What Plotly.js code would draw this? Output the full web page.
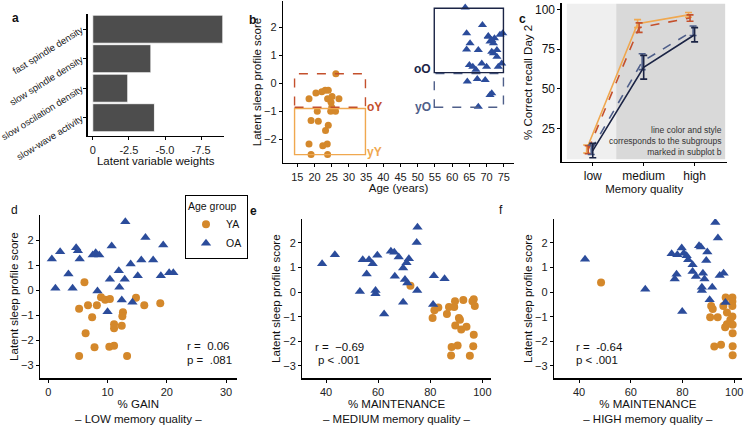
<!DOCTYPE html>
<html><head><meta charset="utf-8">
<script src="https://cdn.plot.ly/plotly-3.0.1.min.js"></script>
<style>html,body{margin:0;padding:0;background:#fff}#chart{width:745px;height:427px}</style>
</head><body><div id="chart"></div>
<script>
// ---------- data ----------
const weightLabels = ["fast spindle density", "slow spindle density", "slow oscilation density", "slow-wave activity"];
const weightValues = [-9.0, -4.02, -2.42, -4.27];

// panel b: age vs latent score
const ageYA = [26.2, 18.4, 20.4, 22.1, 23.1, 24.0, 25.1, 23.8, 27.1, 24.8, 25.0, 20.8, 24.7, 26.1, 19.0, 21.1, 24.0, 23.2, 18.4, 22.4, 23.7, 19.0, 23.8];
const scoreYA_b = [0.34, -0.55, -0.35, -0.3, -0.25, -0.25, -0.47, -0.55, -0.55, -0.68, -0.86, -1.0, -1.0, -1.0, -1.33, -1.36, -1.5, -1.69, -2.17, -2.23, -2.17, -2.55, -2.55];
const ageOA = [63.8, 68.8, 64.2, 65.2, 64.2, 67.6, 70.5, 71.0, 72.0, 71.5, 72.3, 74.7, 73.9, 73.0, 72.0, 73.0, 74.4, 65.0, 66.0, 68.6, 66.9, 70.0, 73.4, 64.4, 67.3, 69.6, 71.5, 71.0, 67.6, 70.5, 71.5];
const scoreOA_b = [2.71, 2.08, 1.79, 1.43, 1.21, 1.19, 1.69, 1.49, 1.43, 1.13, 1.61, 1.79, 1.73, 1.19, 1.07, 0.95, 0.71, 0.65, 0.59, 0.71, 0.48, 0.59, 0.59, 0.06, 0.15, 0.12, -0.36, -0.42, -0.84, 1.66, 1.55];

// panel c: recall by memory quality and subgroup
const memCats = ["low", "medium", "high"];
const recallYY = [12, 91, 96.5];   const errYY = [2.5, 2.5, 1.5];
const recallOY = [11.5, 88.5, 94.5]; const errOY = [2.5, 3, 2];
const recallYO = [11.5, 67, 86.5]; const errYO = [3, 5, 3];
const recallOO = [11, 63.5, 84];   const errOO = [4.5, 7.5, 4.5];

// panel d: % gain (low memory quality)
const gainYA = [6.1, 8.9, 9.6, 10.4, 14.8, 5.2, 6.7, 8.2, 16.2, 18.9, 7.4, 12.6, 12.5, 11.1, 11.1, 12.4, 6.3, 7.8, 10.3, 11.1, 5.2, 13.3];
const scoreYA_d = [0.31, -0.29, -0.39, -0.36, -0.31, -0.75, -0.61, -0.61, -0.61, -0.53, -1.09, -0.89, -1.05, -1.37, -1.53, -1.43, -1.73, -2.29, -2.27, -2.23, -2.64, -2.64];
const gainOA = [13.0, 16.4, 19.4, 29.3, 0.6, 2.0, 4.7, 5.0, 5.3, 7.5, 8.0, 8.6, 10.7, 13.9, 15.7, 17.7, 3.4, 11.9, 15.1, 19.0, 20.4, 21.1, 10.4, 12.9, 12.0, 1.2, 4.1, 8.3, 12.4, 14.2, 10.0];
const scoreOA_d = [2.73, 2.1, 1.8, 1.43, 1.24, 1.53, 1.69, 1.57, 1.24, 1.4, 1.49, 1.4, 1.76, 1.04, 1.2, 1.2, 0.64, 0.77, 0.57, 0.57, 0.69, 0.69, 0.43, 0.43, 0.11, 0.07, 0.07, -0.04, -0.4, -0.49, -0.87];

// panel e: % maintenance (medium memory quality)
const maintMedYA = [72.4, 81.6, 83.1, 80.9, 86.4, 87.2, 89.2, 89.5, 92.7, 96.2, 96.7, 97.1, 91.0, 91.4, 89.6, 91.9, 93.9, 96.7, 88.2, 90.5, 96.5, 88.0, 95.2];
const scoreYA_e = [0.26, -0.74, -0.62, -1.05, -0.89, -0.6, -0.6, -0.37, -0.32, -0.37, -0.29, -0.56, -1.05, -1.12, -1.36, -1.52, -1.41, -1.73, -2.23, -2.17, -2.2, -2.57, -2.58];
const maintMedOA = [38.5, 43.4, 54.1, 56.5, 57.9, 59.7, 55.6, 53.0, 59.0, 59.0, 62.3, 64.9, 66.2, 67.9, 66.4, 69.6, 70.9, 71.8, 70.3, 71.2, 74.8, 75.0, 69.6, 81.4, 85.5, 81.1, 75.1];
const scoreOA_e = [1.15, 1.52, 1.32, 1.32, 1.15, 1.5, 0.74, 0.03, 0.07, -0.07, -0.89, 1.66, 1.62, 1.43, 0.64, 0.98, 1.19, 1.36, 0.51, 0.37, 2.02, 0.07, -0.41, 0.67, 0.54, -0.5, 2.63];

// panel f: % maintenance (high memory quality)
const maintHighYA = [48.5, 91.1, 91.7, 90.7, 93.6, 95.8, 96.7, 99.3, 99.3, 99.3, 97.2, 99.3, 99.4, 98.5, 97.2, 96.5, 99.4, 92.3, 94.9, 99.4, 99.4];
const scoreYA_f = [0.39, -0.56, -0.69, -1.02, -1.02, -0.56, -0.22, -0.22, -0.38, -0.56, -0.83, -0.99, -1.33, -1.13, -1.3, -1.43, -1.67, -2.21, -2.14, -2.2, -2.56];
const maintHighOA = [42.3, 65.6, 75.8, 78.0, 79.7, 80.5, 81.6, 82.2, 83.9, 83.9, 85.2, 77.7, 77.0, 86.4, 87.1, 89.6, 89.2, 87.9, 88.5, 87.5, 87.5, 91.5, 93.7, 94.4, 95.9, 90.5, 79.9, 96.6, 92.7];
const scoreOA_f = [1.34, 0.12, 1.56, 1.52, 1.79, 1.58, 1.48, 1.31, 1.11, 0.84, 0.63, 0.73, 0.53, 1.88, 1.83, 1.63, 1.28, 0.77, 0.53, 0.2, 0.07, 0.2, 2.2, 0.68, 0.77, -0.31, -0.79, -0.42, 2.83];

// ---------- style ----------
const F = "Liberation Sans, Arial, sans-serif";
const W = 745, H = 427;
const cYA = "#d4882b", cOA = "#2b4c9b";
const cYY = "#f0a84f", cOY = "#c4502c", cOO = "#1b2445", cYO = "#4f5f8a";
const px = v => v / W, py = v => 1 - v / H;

function ax(extra) {
  return Object.assign({
    showline: true, linecolor: "#000", linewidth: 1.3, ticks: "outside", ticklen: 3,
    tickcolor: "#000", tickwidth: 1, showgrid: false, zeroline: false,
    tickfont: {size: 11, color: "#222", family: F}, fixedrange: true
  }, extra);
}
function ttl(text, standoff) {
  return {text: text, standoff: standoff, font: {size: 11.5, color: "#111", family: F}};
}

const traces = [];
// a
traces.push({type: "bar", orientation: "h", x: weightValues, y: weightLabels, xaxis: "x", yaxis: "y",
  marker: {color: "#4d4d4d", line: {color: "#fff", width: 0.8}}, showlegend: false, hoverinfo: "skip"});
// b
traces.push({type: "scatter", mode: "markers", x: ageYA, y: scoreYA_b, xaxis: "x2", yaxis: "y2",
  marker: {color: cYA, size: 7, symbol: "circle"}, showlegend: false});
traces.push({type: "scatter", mode: "markers", x: ageOA, y: scoreOA_b, xaxis: "x2", yaxis: "y2",
  marker: {color: cOA, size: 8, symbol: "triangle-up"}, showlegend: false});
// c
const groupsC = [
  {y: recallYY, e: errYY, c: cYY, dash: "solid", off: -0.12},
  {y: recallOY, e: errOY, c: cOY, dash: "dash", off: -0.09},
  {y: recallYO, e: errYO, c: cYO, dash: "dash", off: -0.03},
  {y: recallOO, e: errOO, c: cOO, dash: "solid", off: 0.0}
];
groupsC.forEach(g => {
  traces.push({type: "scatter", mode: "lines", x: memCats.map((_, i) => i + g.off), y: g.y,
    xaxis: "x3", yaxis: "y3", line: {color: g.c, width: 1.6, dash: g.dash},
    error_y: {type: "data", array: g.e, visible: true, color: g.c, thickness: 1.6, width: 3.5},
    showlegend: false});
});
// d
traces.push({type: "scatter", mode: "markers", name: "YA", x: gainYA, y: scoreYA_d, xaxis: "x4", yaxis: "y4",
  marker: {color: cYA, size: 8, symbol: "circle"}, showlegend: true, legendgroup: "YA"});
traces.push({type: "scatter", mode: "markers", name: "OA", x: gainOA, y: scoreOA_d, xaxis: "x4", yaxis: "y4",
  marker: {color: cOA, size: 9, symbol: "triangle-up"}, showlegend: true, legendgroup: "OA"});
// e
traces.push({type: "scatter", mode: "markers", x: maintMedYA, y: scoreYA_e, xaxis: "x5", yaxis: "y5",
  marker: {color: cYA, size: 8, symbol: "circle"}, showlegend: false});
traces.push({type: "scatter", mode: "markers", x: maintMedOA, y: scoreOA_e, xaxis: "x5", yaxis: "y5",
  marker: {color: cOA, size: 9, symbol: "triangle-up"}, showlegend: false});
// f
traces.push({type: "scatter", mode: "markers", x: maintHighYA, y: scoreYA_f, xaxis: "x6", yaxis: "y6",
  marker: {color: cYA, size: 8, symbol: "circle"}, showlegend: false});
traces.push({type: "scatter", mode: "markers", x: maintHighOA, y: scoreOA_f, xaxis: "x6", yaxis: "y6",
  marker: {color: cOA, size: 9, symbol: "triangle-up"}, showlegend: false});

const scoreTicks = [-3, -2, -1, 0, 1, 2];
const capFont = {size: 8.5, color: "#333", family: F};
const statFont = {size: 11.5, color: "#111", family: F};

const layout = {
  width: W, height: H, margin: {l: 0, r: 0, t: 0, b: 0},
  paper_bgcolor: "#fff", plot_bgcolor: "rgba(0,0,0,0)",
  font: {family: F, color: "#111"},
  bargap: 0.05,
  // a
  xaxis: ax({domain: [px(88), px(223.5)], anchor: "y", range: [0.33, -9.05],
    tickvals: [0, -2.5, -5, -7.5], ticktext: ["0", "-2.5", "-5.0", "-7.5"], title: ttl("Latent variable weights", 0)}),
  yaxis: ax({domain: [py(136), py(14)], anchor: "x", type: "category", categoryorder: "array",
    categoryarray: weightLabels, range: [3.62, -0.515], tickangle: -32, linewidth: 1.8,
    tickfont: {size: 9.5, color: "#222", family: F}}),
  // b
  xaxis2: ax({domain: [px(283), px(514)], anchor: "y2", range: [10.84, 77.97], tick0: 15, dtick: 5,
    title: ttl("Age (years)", 1)}),
  yaxis2: ax({domain: [py(163), py(1)], anchor: "x2", range: [-2.85, 2.94], tickvals: [-2, -1, 0, 1, 2],
    title: ttl("Latent sleep profile score", 0)}),
  // c
  xaxis3: ax({domain: [px(561.7), px(726.7)], anchor: "y3", range: [-0.61, 2.63], tickvals: [0, 1, 2],
    ticktext: memCats, title: ttl("Memory quality", 0), tickfont: {size: 12, color: "#111", family: F}}),
  yaxis3: ax({domain: [py(161.7), py(3)], anchor: "x3", range: [3.97, 104], tickvals: [25, 50, 75, 100],
    title: ttl("% Correct recall Day 2", 0), tickfont: {size: 12, color: "#111", family: F}}),
  // d
  xaxis4: ax({domain: [px(40), px(236.7)], anchor: "y4", range: [-1.4, 31.8], tickvals: [0, 10, 20, 30],
    title: ttl("% GAIN<br>– LOW memory quality –", 1)}),
  yaxis4: ax({domain: [py(378.3), py(215)], anchor: "x4", range: [-3.53, 3.0], tickvals: scoreTicks,
    title: ttl("Latent sleep profile score", 0)}),
  // e
  xaxis5: ax({domain: [px(302.3), px(490.7)], anchor: "y5", range: [30.9, 103.2], tickvals: [40, 60, 80, 100],
    title: ttl("% MAINTENANCE<br>– MEDIUM memory quality –", 1)}),
  yaxis5: ax({domain: [py(378.3), py(219)], anchor: "x5", range: [-3.5, 2.97], tickvals: scoreTicks,
    title: ttl("Latent sleep profile score", 0)}),
  // f
  xaxis6: ax({domain: [px(554), px(741.7)], anchor: "y6", range: [30.3, 102.9], tickvals: [40, 60, 80, 100],
    title: ttl("% MAINTENANCE<br>– HIGH memory quality –", 1)}),
  yaxis6: ax({domain: [py(378.3), py(219)], anchor: "x6", range: [-3.5, 2.97], tickvals: scoreTicks,
    title: ttl("Latent sleep profile score", 0)}),
  legend: {x: px(185), y: py(195), xanchor: "left", yanchor: "top", bordercolor: "#000", borderwidth: 1,
    bgcolor: "#fff", font: {size: 10.5, family: F, color: "#111"},
    title: {text: "Age group", font: {size: 10.5, family: F, color: "#111"}}, tracegroupgap: 0, itemwidth: 30},
  shapes: [
    // c backgrounds
    {type: "rect", xref: "x3", yref: "y3", x0: -0.51, x1: 0.46, y0: 5.5, y1: 103.5, fillcolor: "#efefef", line: {width: 0}, layer: "below"},
    {type: "rect", xref: "x3", yref: "y3", x0: 0.46, x1: 2.6, y0: 5.5, y1: 103.5, fillcolor: "#d9d9d9", line: {width: 0}, layer: "below"},
    // b subgroup boxes
    {type: "rect", xref: "x2", yref: "y2", x0: 14.2, x1: 34.8, y0: -2.55, y1: -0.9, line: {color: cYY, width: 1.4}},
    {type: "rect", xref: "x2", yref: "y2", x0: 14.2, x1: 34.8, y0: -0.86, y1: 0.34, line: {color: cOY, width: 1.4, dash: "dash"}},
    {type: "rect", xref: "x2", yref: "y2", x0: 54.8, x1: 74.9, y0: -0.86, y1: 0.35, line: {color: cYO, width: 1.4, dash: "dash"}},
    {type: "rect", xref: "x2", yref: "y2", x0: 54.8, x1: 74.9, y0: 0.38, y1: 2.68, line: {color: cOO, width: 1.4}}
  ],
  annotations: [
    {text: "<b>a</b>", x: px(10), y: py(9), xref: "paper", yref: "paper", showarrow: false, font: {size: 12, family: F}},
    {text: "<b>b</b>", x: px(252), y: py(11), xref: "paper", yref: "paper", showarrow: false, font: {size: 12, family: F}},
    {text: "<b>c</b>", x: px(528), y: py(10), xref: "paper", yref: "paper", showarrow: false, font: {size: 12, family: F}},
    {text: "d", x: px(9), y: py(210), xref: "paper", yref: "paper", showarrow: false, font: {size: 12, family: F}},
    {text: "<b>e</b>", x: px(254), y: py(211), xref: "paper", yref: "paper", showarrow: false, font: {size: 12, family: F}},
    {text: "f", x: px(505), y: py(210), xref: "paper", yref: "paper", showarrow: false, font: {size: 12, family: F}},
    // b subgroup labels
    {text: "<b>oY</b>", x: 37.3, y: -0.85, xref: "x2", yref: "y2", showarrow: false, font: {size: 12, color: cOY, family: F}},
    {text: "<b>yY</b>", x: 37.3, y: -2.45, xref: "x2", yref: "y2", showarrow: false, font: {size: 12, color: cYY, family: F}},
    {text: "<b>oO</b>", x: 51.5, y: 0.52, xref: "x2", yref: "y2", showarrow: false, font: {size: 12, color: cOO, family: F}},
    {text: "<b>yO</b>", x: 51.5, y: -0.84, xref: "x2", yref: "y2", showarrow: false, font: {size: 12, color: cYO, family: F}},
    // c caption
    {text: "line color and style<br>corresponds to the subgroups<br>marked in subplot b", x: px(723), y: py(124),
      xref: "paper", yref: "paper", xanchor: "right", yanchor: "top", align: "right", showarrow: false, borderpad: 0, font: capFont},
    // stats
    {text: "r =  0.06", x: px(185), y: py(354), xref: "paper", yref: "paper", xanchor: "left", showarrow: false, font: statFont},
    {text: "p =  .081", x: px(185), y: py(368), xref: "paper", yref: "paper", xanchor: "left", showarrow: false, font: statFont},
    {text: "r =  −0.69", x: px(313), y: py(355), xref: "paper", yref: "paper", xanchor: "left", showarrow: false, font: statFont},
    {text: "p < .001", x: px(316), y: py(368), xref: "paper", yref: "paper", xanchor: "left", showarrow: false, font: statFont},
    {text: "r =  -0.64", x: px(574), y: py(355), xref: "paper", yref: "paper", xanchor: "left", showarrow: false, font: statFont},
    {text: "p < .001", x: px(574), y: py(368), xref: "paper", yref: "paper", xanchor: "left", showarrow: false, font: statFont}
  ]
};

Plotly.newPlot("chart", traces, layout, {staticPlot: true, displayModeBar: false});
</script></body></html>
